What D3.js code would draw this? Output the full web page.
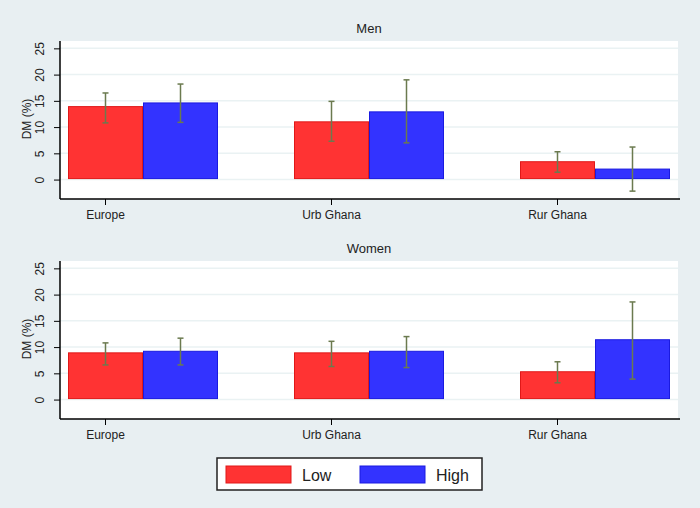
<!DOCTYPE html>
<html>
<head>
<meta charset="utf-8">
<script src="https://cdn.jsdelivr.net/npm/d3@7"></script>
<style>
  body { margin: 0; background: #e8eff2; }
  svg { display: block; font-family: "Liberation Sans", Arial, sans-serif; }
</style>
</head>
<body>
<div id="chart"></div>
<script>
const categories = ['Europe', 'Urb Ghana', 'Rur Ghana'];
const levels = ['Low', 'High'];
const yTicks = [0, 5, 10, 15, 20, 25];

// Men: bar values and 95% CI (lo, hi)
const menLow = [13.9, 11.0, 3.4];
const menLowCI = [[10.8, 16.5], [7.3, 14.9], [1.4, 5.3]];
const menHigh = [14.6, 12.9, 2.0];
const menHighCI = [[10.9, 18.2], [7.0, 19.0], [-2.2, 6.2]];

// Women
const womenLow = [8.9, 8.9, 5.3];
const womenLowCI = [[6.6, 10.8], [6.3, 11.1], [3.2, 7.2]];
const womenHigh = [9.2, 9.2, 11.4];
const womenHighCI = [[6.6, 11.7], [6.1, 12.0], [3.9, 18.6]];

const panels = [
  {title: 'Men', low: menLow, lowCI: menLowCI, high: menHigh, highCI: menHighCI, top: 41},
  {title: 'Women', low: womenLow, lowCI: womenLowCI, high: womenHigh, highCI: womenHighCI, top: 261}
];

const W = 700, H = 508;
const colors = {Low: '#ff3333', High: '#3333ff'};
const strokes = {Low: '#e01818', High: '#1a1ae0'};
const errColor = '#6b7a4f';

const svg = d3.select('#chart').append('svg')
  .attr('width', W).attr('height', H);

svg.append('rect').attr('width', W).attr('height', H).attr('fill', '#e8eff2');

const left = 60, right = 678, plotH = 158;

// group positions (each group 150px wide, 76px gap)
const x0 = d3.scaleBand().domain(categories).range([left + 8, right + 68]).paddingInner(0).paddingOuter(0);
const groupW = 150;
const x1 = d3.scaleBand().domain(levels).range([0, groupW]).padding(0);

panels.forEach(p => {
  const g = svg.append('g').attr('transform', `translate(0,${p.top})`);
  const y = d3.scaleLinear().domain([-3.7, 26.4]).range([plotH, 0]);

  g.append('rect').attr('x', left).attr('y', 0)
    .attr('width', right - left).attr('height', plotH).attr('fill', '#fff');

  // gridlines
  g.append('g').selectAll('line').data(yTicks).join('line')
    .attr('x1', left).attr('x2', right)
    .attr('y1', d => y(d)).attr('y2', d => y(d))
    .attr('stroke', '#eaf2f3').attr('stroke-width', 1.5);

  // title
  g.append('text').attr('x', (left + right) / 2).attr('y', -8)
    .attr('text-anchor', 'middle').attr('font-size', 13).attr('fill', '#222')
    .text(p.title);

  const rows = categories.map((c, i) => ({
    cat: c,
    bars: [
      {lev: 'Low', v: p.low[i], ci: p.lowCI[i]},
      {lev: 'High', v: p.high[i], ci: p.highCI[i]}
    ]
  }));

  const grp = g.selectAll('g.grp').data(rows).join('g')
    .attr('class', 'grp')
    .attr('transform', d => `translate(${x0(d.cat)},0)`);

  grp.selectAll('rect').data(d => d.bars).join('rect')
    .attr('x', d => x1(d.lev) + 0.5)
    .attr('y', d => y(d.v))
    .attr('width', x1.bandwidth() - 1)
    .attr('height', d => y(0) - 1 - y(d.v))
    .attr('fill', d => colors[d.lev])
    .attr('stroke', d => strokes[d.lev]).attr('stroke-width', 1);

  // error bars
  const eb = grp.selectAll('g.eb').data(d => d.bars).join('g').attr('class', 'eb')
    .attr('stroke', errColor).attr('stroke-width', 1.5);
  eb.append('line')
    .attr('x1', d => x1(d.lev) + x1.bandwidth() / 2)
    .attr('x2', d => x1(d.lev) + x1.bandwidth() / 2)
    .attr('y1', d => y(d.ci[0])).attr('y2', d => y(d.ci[1]));
  [0, 1].forEach(k => {
    eb.append('line')
      .attr('x1', d => x1(d.lev) + x1.bandwidth() / 2 - 3)
      .attr('x2', d => x1(d.lev) + x1.bandwidth() / 2 + 3)
      .attr('y1', d => y(d.ci[k])).attr('y2', d => y(d.ci[k]));
  });

  // y axis, Stata-style vertical tick labels
  const ya = g.append('g').attr('transform', `translate(${left},0)`)
    .call(d3.axisLeft(y).tickValues(yTicks).tickSize(6).tickSizeOuter(0));
  ya.select('.domain').attr('stroke', '#000').attr('stroke-width', 1.5)
    .attr('d', `M0,0V${plotH}`);
  ya.selectAll('.tick line').attr('stroke', '#000');
  ya.selectAll('.tick text')
    .attr('font-size', 12).attr('fill', '#222')
    .attr('text-anchor', 'middle')
    .attr('x', 0).attr('y', 0).attr('dy', '0.35em')
    .attr('transform', 'translate(-20,0) rotate(-90)');

  g.append('text')
    .attr('transform', `translate(31,${plotH / 2 - 1}) rotate(-90)`)
    .attr('text-anchor', 'middle').attr('font-size', 12).attr('fill', '#222')
    .text('DM (%)');

  // x axis
  const xa = g.append('g').attr('transform', `translate(0,${plotH})`);
  xa.append('line').attr('x1', left).attr('x2', right + 2)
    .attr('stroke', '#000').attr('stroke-width', 1.5);
  const xt = xa.selectAll('g').data(categories).join('g')
    .attr('transform', c => `translate(${x0(c) + x1('Low') + x1.bandwidth() / 2},0)`);
  xt.append('line').attr('y2', 6).attr('stroke', '#000');
  xt.append('text').attr('y', 20).attr('text-anchor', 'middle')
    .attr('font-size', 12).attr('fill', '#222').text(c => c);
});

// legend
const lg = svg.append('g').attr('transform', 'translate(217,458)');
lg.append('rect').attr('width', 265).attr('height', 32)
  .attr('fill', '#fff').attr('stroke', '#222').attr('stroke-width', 1.5);
const lx = d3.scalePoint().domain(levels).range([9, 143]);
const li = lg.selectAll('g').data(levels).join('g')
  .attr('transform', d => `translate(${lx(d)},8)`);
li.append('rect').attr('width', 65).attr('height', 17)
  .attr('fill', d => colors[d]).attr('stroke', d => strokes[d]);
li.append('text').attr('x', 76).attr('y', 15).attr('font-size', 16).attr('fill', '#222')
  .text(d => d);
</script>
</body>
</html>
